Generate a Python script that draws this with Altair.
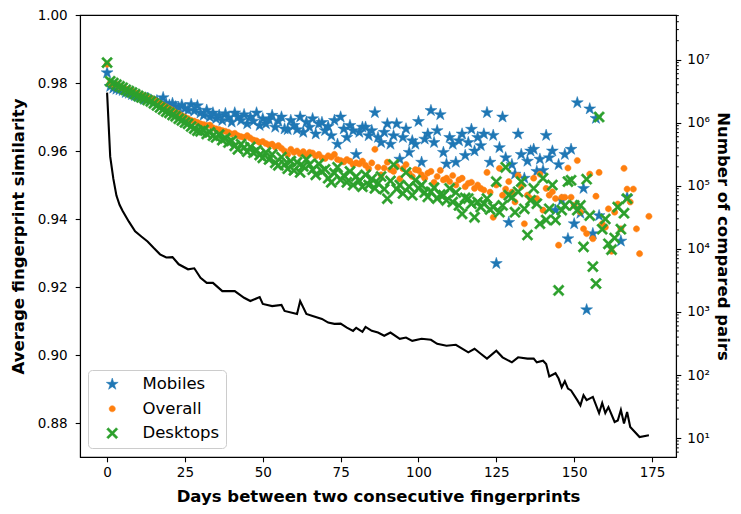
import altair as alt
import pandas as pd

# ---------------- data ----------------
series_names = ["Mobiles", "Overall", "Desktops"]
series_colors = ["#1f77b4", "#ff7f0e", "#2ca02c"]

mobile_days = list(range(0, 159)) + [165, 167]
mobile_sim = [
    0.9830, 0.9790, 0.9785, 0.9782, 0.9780, 0.9778, 0.9772, 0.9770, 0.9766, 0.9763,
    0.9760, 0.9758, 0.9752, 0.9755, 0.9750, 0.9745, 0.9748, 0.9742, 0.9757, 0.9738,
    0.9735, 0.9740, 0.9730, 0.9728, 0.9735, 0.9725, 0.9720, 0.9737, 0.9718, 0.9733,
    0.9712, 0.9705, 0.9720, 0.9700, 0.9712, 0.9695, 0.9705, 0.9690, 0.9710, 0.9698,
    0.9685, 0.9712, 0.9700, 0.9690, 0.9707, 0.9680, 0.9700, 0.9688, 0.9712, 0.9675,
    0.9695, 0.9680, 0.9692, 0.9705, 0.9670, 0.9688, 0.9700, 0.9665, 0.9663, 0.9690,
    0.9675, 0.9663, 0.9700, 0.9655, 0.9685, 0.9670, 0.9695, 0.9650, 0.9680, 0.9684,
    0.9660, 0.9672, 0.9645, 0.9690, 0.9620, 0.9700, 0.9665, 0.9640, 0.9675, 0.9660,
    0.9590, 0.9655, 0.9670, 0.9670, 0.9645, 0.9660, 0.9713, 0.9640, 0.9625, 0.9655,
    0.9680, 0.9620, 0.9645, 0.9680, 0.9576, 0.9640, 0.9665, 0.9596, 0.9630, 0.9620,
    0.9687, 0.9567, 0.9635, 0.9650, 0.9719, 0.9625, 0.9660, 0.9707, 0.9596, 0.9562,
    0.9640, 0.9620, 0.9567, 0.9630, 0.9650, 0.9587, 0.9625, 0.9664, 0.9600, 0.9640,
    0.9616, 0.9650, 0.9713, 0.9567, 0.9646, 0.9269, 0.9610, 0.9700, 0.9580, 0.9390,
    0.9560, 0.9532, 0.9650, 0.9590, 0.9520, 0.9570, 0.9600, 0.9605, 0.9540, 0.9576,
    0.9543, 0.9646, 0.9580, 0.9600, 0.9426, 0.9560, 0.9455, 0.9590, 0.9342, 0.9605,
    0.9386, 0.9742, 0.9417, 0.9490, 0.9133, 0.9724, 0.9357, 0.9696, 0.9410,
    0.9335, 0.9464,
]

overall_days = list(range(0, 172)) + [174]
overall_sim = [
    0.9855, 0.9800, 0.9795, 0.9796, 0.9790, 0.9786, 0.9782, 0.9780, 0.9777, 0.9772,
    0.9768, 0.9764, 0.9762, 0.9757, 0.9754, 0.9752, 0.9746, 0.9740, 0.9735, 0.9730,
    0.9725, 0.9720, 0.9713, 0.9710, 0.9704, 0.9700, 0.9695, 0.9690, 0.9688, 0.9684,
    0.9680, 0.9678, 0.9675, 0.9676, 0.9668, 0.9665, 0.9663, 0.9660, 0.9658, 0.9655,
    0.9650, 0.9652, 0.9645, 0.9642, 0.9640, 0.9645, 0.9638, 0.9632, 0.9630, 0.9625,
    0.9628, 0.9622, 0.9618, 0.9620, 0.9612, 0.9616, 0.9608, 0.9600, 0.9590, 0.9605,
    0.9596, 0.9600, 0.9592, 0.9598, 0.9588, 0.9596, 0.9594, 0.9585, 0.9590, 0.9580,
    0.9578, 0.9586, 0.9582, 0.9590, 0.9575, 0.9572, 0.9568, 0.9575, 0.9570, 0.9560,
    0.9565, 0.9562, 0.9570, 0.9558, 0.9548, 0.9565, 0.9605, 0.9552, 0.9530, 0.9550,
    0.9567, 0.9545, 0.9540, 0.9555, 0.9518, 0.9548, 0.9560, 0.9535, 0.9525, 0.9545,
    0.9543, 0.9530, 0.9520, 0.9535, 0.9540, 0.9508, 0.9525, 0.9543, 0.9515, 0.9520,
    0.9510, 0.9528, 0.9500, 0.9515, 0.9520, 0.9495, 0.9505, 0.9508, 0.9490, 0.9500,
    0.9490, 0.9485, 0.9537, 0.9479, 0.9405, 0.9500, 0.9549, 0.9470, 0.9488, 0.9510,
    0.9479, 0.9450, 0.9528, 0.9495, 0.9386, 0.9470, 0.9460, 0.9520, 0.9460, 0.9532,
    0.9426, 0.9490, 0.9470, 0.9480, 0.9460, 0.9323, 0.9464, 0.9464, 0.9550, 0.9464,
    0.9440, 0.9572, 0.9420, 0.9371, 0.9357, 0.9532, 0.9342, 0.9467, 0.9537, 0.9386,
    0.9376, 0.9430, 0.9305, 0.9420, 0.9444, 0.9371, 0.9549, 0.9488, 0.9450, 0.9488,
    0.9371, 0.9298,
    0.9408,
]

desktop_days = list(range(0, 168))
desktop_sim = [
    0.9860, 0.9805, 0.9800, 0.9795, 0.9790, 0.9786, 0.9780, 0.9776, 0.9772, 0.9767,
    0.9762, 0.9758, 0.9755, 0.9750, 0.9746, 0.9740, 0.9734, 0.9728, 0.9722, 0.9716,
    0.9712, 0.9706, 0.9702, 0.9695, 0.9690, 0.9684, 0.9680, 0.9672, 0.9666, 0.9660,
    0.9658, 0.9662, 0.9650, 0.9655, 0.9645, 0.9640, 0.9648, 0.9632, 0.9638, 0.9625,
    0.9630, 0.9615, 0.9605, 0.9620, 0.9610, 0.9598, 0.9612, 0.9595, 0.9602, 0.9588,
    0.9580, 0.9596, 0.9575, 0.9590, 0.9565, 0.9558, 0.9582, 0.9560, 0.9548, 0.9570,
    0.9543, 0.9567, 0.9537, 0.9555, 0.9575, 0.9560, 0.9545, 0.9530, 0.9562, 0.9540,
    0.9546, 0.9520, 0.9508, 0.9535, 0.9552, 0.9515, 0.9528, 0.9508, 0.9540, 0.9500,
    0.9525, 0.9512, 0.9495, 0.9530, 0.9500, 0.9518, 0.9490, 0.9505, 0.9525, 0.9488,
    0.9460, 0.9512, 0.9560, 0.9488, 0.9500, 0.9475, 0.9537, 0.9495, 0.9470, 0.9514,
    0.9490, 0.9500, 0.9478, 0.9465, 0.9480, 0.9492, 0.9460, 0.9472, 0.9470, 0.9455,
    0.9490, 0.9450, 0.9478, 0.9440, 0.9415, 0.9462, 0.9460, 0.9445, 0.9405, 0.9450,
    0.9435, 0.9445, 0.9460, 0.9428, 0.9435, 0.9510, 0.9420, 0.9440, 0.9552, 0.9470,
    0.9464, 0.9420, 0.9480, 0.9510, 0.9430, 0.9353, 0.9455, 0.9490, 0.9445, 0.9386,
    0.9520, 0.9397, 0.9430, 0.9500, 0.9397, 0.9190, 0.9426, 0.9440, 0.9510, 0.9514,
    0.9440, 0.9426, 0.9440, 0.9318, 0.9517, 0.9410, 0.9260, 0.9210, 0.9700, 0.9370,
    0.9400, 0.9327, 0.9310, 0.9344, 0.9435, 0.9370, 0.9417, 0.9460,
]

pairs_days = [
    0, 1, 2, 3, 4, 5, 7, 9, 11, 13, 15, 17, 19, 21, 23, 26, 28, 30, 32, 34,
    37, 41, 44, 46, 49, 50, 53, 56, 57, 61, 62, 64, 66, 69, 71, 73, 75, 77, 79, 80,
    82, 83, 85, 87, 89, 91, 94, 96, 98, 101, 104, 106, 109, 112, 116, 118, 120, 122, 125, 127,
    130, 132, 135, 137, 138, 140, 141, 142, 144, 145, 146, 147, 148, 149, 151, 152, 153, 154, 156, 158,
    159, 160, 161, 163, 164, 165, 166, 167, 168, 171, 174,
]
pairs_count = [
    3.0e6, 2.9e5, 1.3e5, 7.0e4, 5.0e4, 4.0e4, 2.7e4, 1.9e4, 1.57e4, 1.31e4, 1.03e4, 8200, 7300, 7400, 5700, 4750, 4930, 3470, 2890, 2890,
    2140, 2140, 1680, 1490, 1720, 1340, 1240, 1290, 1040, 931, 1490, 931, 865, 776, 678, 647, 654, 566, 502, 560,
    484, 581, 502, 472, 419, 472, 376, 394, 349, 376, 362, 313, 292, 302, 229, 261, 218, 182, 243, 191,
    159, 191, 182, 182, 159, 169, 150, 95, 107, 88, 64, 80, 61, 57, 40, 33, 48, 40, 45, 25,
    36, 25, 31, 18, 19, 28, 17, 26, 15, 10.4, 11.1,
]

x_ticks = [0, 25, 50, 75, 100, 125, 150, 175]
left_ticks = [0.88, 0.90, 0.92, 0.94, 0.96, 0.98, 1.00]
right_major = [10, 100, 1000, 10000, 100000, 1000000, 10000000]
right_minor = [m * 10 ** e for e in range(0, 8) for m in range(2, 10)]
right_minor = [t for t in right_minor if 5.02 <= t <= 5.11e7]

# ---------------- tables ----------------
rows = []
for name, ds, vs in [("Mobiles", mobile_days, mobile_sim),
                     ("Overall", overall_days, overall_sim),
                     ("Desktops", desktop_days, desktop_sim)]:
    rows += [{"day": d, "sim": v, "series": name} for d, v in zip(ds, vs)]
scatter_df = pd.DataFrame(rows)
line_df = pd.DataFrame({"day": pairs_days, "pairs": pairs_count})
minor_df = pd.DataFrame({"pairs": right_minor})

FONT = "DejaVu Sans"
TICK_FS = 13.5
TITLE_FS = 16.5
# marker outlines (unit box, all drawn with the same symbol size)
STAR_PATH = ("M0,-1.25L0.281,-0.386L1.189,-0.386L0.454,0.148L0.735,1.011L0,0.478"
             "L-0.735,1.011L-0.454,0.148L-1.189,-0.386L-0.281,-0.386Z")
CIRCLE_PATH = "M0.62,0A0.62,0.62 0 1,1 -0.62,0A0.62,0.62 0 1,1 0.62,0Z"
X_PATH = ("M-0.79,1.12L0,0.34L0.79,1.12L1.12,0.79L0.34,0L1.12,-0.79L0.79,-1.12L0,-0.34"
          "L-0.79,-1.12L-1.12,-0.79L-0.34,0L-1.12,0.79Z")
W, H = 596, 442

x_scale = alt.Scale(domain=[-8.7, 182.7], nice=False, zero=False)
x_axis = alt.Axis(values=x_ticks, title="Days between two consecutive fingerprints",
                  format="d", tickSize=4.8, labelPadding=4, titlePadding=9, grid=False)
right_scale = alt.Scale(type="log", domain=[5.02, 5.11e7], nice=False)
sup = "['⁰','¹','²','³','⁴','⁵','⁶','⁷','⁸']"
right_axis = alt.Axis(orient="right", values=right_major, title="Number of compared pairs",
                      labelExpr=f"'10' + {sup}[round(log(datum.value)/LN10)]",
                      tickSize=4.8, labelPadding=6, titlePadding=5, grid=False)

scatter = alt.Chart(scatter_df).mark_point(filled=True, opacity=1, size=100, strokeWidth=0.5).encode(
    x=alt.X("day:Q", scale=x_scale, axis=x_axis),
    y=alt.Y("sim:Q",
            scale=alt.Scale(domain=[0.87, 1.0], nice=False, zero=False),
            axis=alt.Axis(values=left_ticks, format=".2f", title="Average fingerprint similarity",
                          tickSize=4.8, labelPadding=8, titlePadding=11, grid=False)),
    color=alt.Color("series:N", scale=alt.Scale(domain=series_names, range=series_colors), title=None),
    stroke=alt.Stroke("series:N", scale=alt.Scale(domain=series_names, range=series_colors), title=None),
    shape=alt.Shape("series:N", scale=alt.Scale(domain=series_names, range=[STAR_PATH, CIRCLE_PATH, X_PATH]), title=None),
)

line = alt.Chart(line_df).mark_line(color="black", strokeWidth=2.1).encode(
    x=alt.X("day:Q", scale=x_scale, axis=x_axis),
    y=alt.Y("pairs:Q", scale=right_scale, axis=right_axis),
)

minor = alt.Chart(minor_df).mark_rule(color="black", strokeWidth=1.0).encode(
    y=alt.Y("pairs:Q", scale=right_scale, axis=right_axis),
    x=alt.value(W),
    x2=alt.value(W + 2.8),
)

chart = alt.layer(scatter, alt.layer(line, minor)).resolve_scale(y="independent").properties(
    width=W, height=H,
    autosize=alt.AutoSizeParams(type="none"),
    padding={"left": 72, "top": 7, "right": 57, "bottom": 49},
    background="white",
).configure_view(
    stroke="black", strokeWidth=1.1
).configure_axis(
    labelFont=FONT, titleFont=FONT, labelFontSize=TICK_FS, titleFontSize=TITLE_FS,
    titleFontWeight="bold", labelColor="black", titleColor="black",
    tickColor="black", domainColor="black", domainWidth=1.1, tickWidth=1.1,
).configure_legend(
    orient="none", legendX=8, legendY=355, direction="vertical",
    padding=6, symbolOffset=10, labelOffset=22, rowPadding=7.5,
    symbolSize=100, symbolStrokeWidth=0.5,
    labelFont=FONT, labelFontSize=16.5, labelColor="black",
    strokeColor="#cccccc", fillColor="rgba(255,255,255,0.8)", cornerRadius=4,
)

chart.save("out.html", embed_options={"renderer": "svg", "actions": False})
